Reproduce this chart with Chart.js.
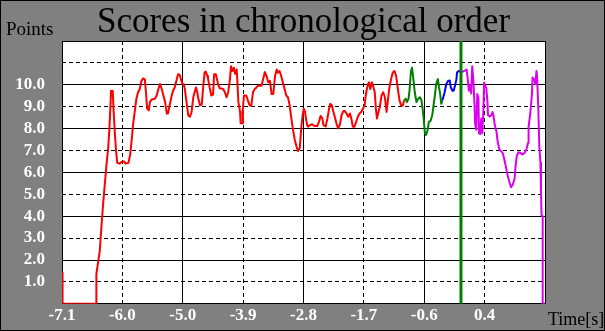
<!DOCTYPE html>
<html>
<head>
<meta charset="utf-8">
<script src="https://cdn.jsdelivr.net/npm/chart.js@4.4.0/dist/chart.umd.min.js"></script>
<style>
  html, body { margin: 0; padding: 0; background: #808080; }
  #wrap { width: 605px; height: 331px; }
</style>
</head>
<body>
<div id="wrap"><canvas id="scoreChart" width="605" height="331"></canvas></div>
<script>
// axis setup
const X_MIN = -7.1;
const X_STEP = 1.0714;
const xTickLabels = ['-7.1', '-6.0', '-5.0', '-3.9', '-2.8', '-1.7', '-0.6', '0.4', ''];
const yTickLabels = ['', '1.0', '2.0', '3.0', '4.0', '5.0', '6.0', '7.0', '8.0', '9.0', '10.0', '', ''];
const markerTime = -0.02;

// [time (s), points]
const redScores = [
    [-7.10, 1.43], [-7.09, 0], [-6.49, 0], [-6.49, 1.36], [-6.46, 1.88], [-6.43, 2.41], [-6.40, 3.53],
    [-6.37, 4.57], [-6.34, 5.47], [-6.31, 6.37], [-6.28, 7.12], [-6.26, 7.94], [-6.24, 9.06], [-6.23, 9.73],
    [-6.21, 9.50], [-6.20, 9.73], [-6.18, 8.61], [-6.16, 7.71], [-6.14, 6.97], [-6.12, 6.44], [-6.08, 6.40],
    [-6.04, 6.48], [-6.00, 6.50], [-5.97, 6.40], [-5.92, 6.44], [-5.89, 6.82], [-5.86, 7.57], [-5.84, 8.16],
    [-5.81, 8.76], [-5.78, 9.36], [-5.75, 9.66], [-5.72, 9.81], [-5.69, 10.18], [-5.66, 10.29], [-5.63, 10.25],
    [-5.61, 9.66], [-5.59, 8.91], [-5.56, 8.83], [-5.54, 9.21], [-5.51, 9.33], [-5.45, 9.36], [-5.42, 9.51],
    [-5.39, 9.81], [-5.36, 10.03], [-5.33, 9.81], [-5.30, 9.51], [-5.27, 9.21], [-5.24, 8.69], [-5.22, 8.69],
    [-5.19, 9.06], [-5.16, 9.43], [-5.13, 9.73], [-5.10, 9.88], [-5.07, 10.18], [-5.04, 10.48], [-5.01, 10.45],
    [-4.99, 10.26], [-4.96, 10.03], [-4.94, 10.03], [-4.92, 9.81], [-4.89, 9.21], [-4.86, 8.61], [-4.83, 8.54],
    [-4.80, 8.76], [-4.77, 9.43], [-4.74, 9.73], [-4.72, 9.88], [-4.70, 9.66], [-4.68, 9.36], [-4.65, 9.06],
    [-4.62, 9.10], [-4.60, 9.73], [-4.57, 10.56], [-4.55, 10.60], [-4.52, 10.40], [-4.51, 10.30], [-4.48, 9.88],
    [-4.45, 9.51], [-4.42, 9.55], [-4.40, 10.48], [-4.37, 10.48], [-4.35, 10.26], [-4.33, 10.03], [-4.30, 9.84],
    [-4.24, 9.81], [-4.21, 9.66], [-4.18, 9.43], [-4.15, 9.66], [-4.12, 10.26], [-4.10, 10.85], [-4.08, 10.63],
    [-4.05, 10.78], [-4.03, 10.50], [-4.00, 10.70], [-3.99, 10.26], [-3.97, 9.21], [-3.94, 8.76], [-3.93, 8.24],
    [-3.90, 8.24], [-3.89, 8.91], [-3.87, 9.51], [-3.83, 9.51], [-3.80, 9.28], [-3.77, 9.06], [-3.74, 9.06],
    [-3.71, 9.66], [-3.68, 9.81], [-3.65, 9.88], [-3.62, 9.96], [-3.56, 9.96], [-3.53, 10.26], [-3.50, 10.58],
    [-3.47, 10.40], [-3.44, 10.11], [-3.41, 10.18], [-3.38, 9.58], [-3.35, 9.58], [-3.32, 10.40], [-3.29, 10.70],
    [-3.27, 10.55], [-3.24, 10.63], [-3.21, 10.40], [-3.18, 10.11], [-3.15, 9.81], [-3.12, 9.51], [-3.09, 9.43],
    [-3.06, 9.06], [-3.03, 8.46], [-3.00, 7.94], [-2.97, 7.49], [-2.94, 7.19], [-2.91, 6.97], [-2.88, 7.12],
    [-2.85, 8.16], [-2.83, 8.61], [-2.81, 8.91], [-2.79, 8.80], [-2.77, 8.46], [-2.75, 8.16], [-2.73, 8.09],
    [-2.70, 8.16], [-2.66, 8.20], [-2.62, 8.12], [-2.57, 8.12], [-2.54, 8.31], [-2.51, 8.58], [-2.48, 8.46],
    [-2.46, 8.16], [-2.42, 8.10], [-2.39, 8.46], [-2.36, 8.91], [-2.34, 9.13], [-2.31, 9.06], [-2.29, 8.83],
    [-2.26, 8.54], [-2.23, 8.24], [-2.20, 8.01], [-2.17, 8.16], [-2.14, 8.61], [-2.11, 8.79], [-2.08, 8.80],
    [-2.05, 8.69], [-2.02, 8.54], [-1.99, 8.69], [-1.96, 8.39], [-1.94, 8.09], [-1.91, 8.09], [-1.88, 8.31],
    [-1.85, 8.54], [-1.82, 8.69], [-1.79, 8.76], [-1.76, 8.91], [-1.73, 9.06], [-1.71, 9.51], [-1.69, 9.81],
    [-1.67, 10.03], [-1.65, 10.11], [-1.63, 9.81], [-1.60, 10.11], [-1.58, 9.96], [-1.55, 9.66], [-1.53, 8.91],
    [-1.51, 8.46], [-1.49, 8.70], [-1.46, 8.99], [-1.43, 9.51], [-1.40, 9.66], [-1.37, 9.43], [-1.34, 8.76],
    [-1.32, 9.21], [-1.29, 9.88], [-1.26, 10.26], [-1.23, 10.56], [-1.20, 10.63], [-1.17, 10.40], [-1.14, 9.81],
    [-1.11, 9.28], [-1.08, 9.06], [-1.05, 9.06], [-1.03, 9.28]
];

const greenScores = [
    [-1.03, 9.28], [-1.00, 9.36], [-0.98, 9.21], [-0.95, 9.36], [-0.93, 9.81], [-0.91, 10.56], [-0.89, 10.78],
    [-0.87, 10.40], [-0.84, 9.66], [-0.81, 9.21], [-0.78, 9.36], [-0.75, 9.43], [-0.72, 9.28], [-0.70, 8.91],
    [-0.68, 8.39], [-0.66, 7.79], [-0.64, 7.71], [-0.61, 7.95], [-0.59, 8.31], [-0.56, 8.35], [-0.53, 8.61],
    [-0.51, 8.99], [-0.48, 9.58], [-0.46, 10.03], [-0.43, 10.26], [-0.41, 9.88], [-0.39, 9.60], [-0.37, 9.13],
    [-0.35, 9.28]
];

const blueScores = [
    [-0.35, 9.28], [-0.31, 9.66], [-0.28, 10.03], [-0.25, 10.18], [-0.22, 10.20], [-0.20, 9.88], [-0.17, 9.73],
    [-0.15, 9.73], [-0.12, 10.03], [-0.10, 10.26], [-0.09, 10.56], [-0.06, 10.63], [-0.03, 10.60]
];

const magentaScores = [
    [-0.03, 10.60], [-0.01, 10.56], [0.01, 10.60], [0.06, 10.66], [0.08, 10.70], [0.10, 10.26], [0.12, 9.73],
    [0.15, 10.00], [0.16, 9.60], [0.18, 10.85], [0.20, 10.20], [0.22, 9.13], [0.23, 8.24], [0.25, 7.95],
    [0.27, 9.58], [0.29, 9.40], [0.30, 7.79], [0.32, 7.75], [0.34, 8.46], [0.36, 7.79], [0.38, 8.99],
    [0.39, 10.11], [0.41, 9.96], [0.43, 9.85], [0.45, 9.21], [0.46, 8.61], [0.49, 8.55], [0.52, 8.61],
    [0.54, 8.76], [0.56, 8.55], [0.58, 8.16], [0.61, 7.87], [0.63, 7.42], [0.66, 7.04], [0.69, 6.98],
    [0.72, 6.89], [0.75, 6.59], [0.78, 6.22], [0.81, 5.85], [0.84, 5.55], [0.87, 5.32], [0.90, 5.45],
    [0.93, 5.70], [0.95, 6.30], [0.97, 6.74], [1.00, 6.92], [1.03, 6.89], [1.07, 6.82], [1.11, 6.89],
    [1.14, 7.04], [1.17, 7.34], [1.18, 8.09], [1.21, 8.69], [1.24, 9.58], [1.25, 10.33], [1.28, 10.25],
    [1.30, 10.03], [1.32, 10.63], [1.33, 10.40], [1.35, 9.13], [1.37, 7.19], [1.39, 6.44], [1.40, 5.10],
    [1.41, 4.05], [1.43, 4.00], [1.43, 0], [1.47, 0]
];

const SERIF = "'Liberation Serif', 'DejaVu Serif', serif";

function toPoints(series) {
    return series.map(p => ({ x: p[0], y: p[1] }));
}

function scoreLine(series, color) {
    return {
        data: toPoints(series),
        borderColor: color,
        borderWidth: 2,
        borderJoinStyle: 'round',
        pointRadius: 0,
        fill: false,
        tension: 0
    };
}

// put ticks exactly on the grid columns
function setXTicks(scale) {
    scale.ticks = xTickLabels.map((_, i) => ({ value: X_MIN + i * X_STEP }));
}

// even grid lines solid, odd ones dashed (second axis)
const solidEven = ctx => (ctx.index % 2 === 0 ? '#000000' : 'rgba(0,0,0,0)');
const dashedOdd = ctx => (ctx.index % 2 === 1 ? '#000000' : 'rgba(0,0,0,0)');

// gray panel, white plot area, title and axis names
const panel = {
    id: 'panel',
    beforeDraw(chart) {
        const { ctx, chartArea: a, width, height } = chart;
        ctx.save();
        ctx.fillStyle = '#808080';
        ctx.fillRect(0, 0, width, height);
        ctx.fillStyle = '#ffffff';
        ctx.fillRect(a.left, a.top, a.right - a.left, a.bottom - a.top);
        ctx.strokeStyle = '#000000';
        ctx.lineWidth = 1;
        ctx.strokeRect(0.5, 0.5, width - 1, height - 1);
        ctx.restore();
    },
    afterDraw(chart) {
        const { ctx, width } = chart;
        ctx.save();
        ctx.fillStyle = '#000000';
        ctx.textBaseline = 'alphabetic';
        ctx.textAlign = 'center';
        ctx.font = '35px ' + SERIF;
        ctx.fillText('Scores in chronological order', width / 2 + 1, 32);
        ctx.textAlign = 'left';
        ctx.font = '19px ' + SERIF;
        ctx.fillText('Points', 6, 35);
        ctx.font = '18px ' + SERIF;
        ctx.fillText('Time[s]', 548, 325);
        ctx.restore();
    }
};

const xMax = X_MIN + (xTickLabels.length - 1) * X_STEP;
const tickFont = { family: SERIF, size: 17, weight: 'bold' };

new Chart(document.getElementById('scoreChart').getContext('2d'), {
    type: 'line',
    data: {
        datasets: [
            {
                data: [{ x: markerTime, y: 0 }, { x: markerTime, y: 12 }],
                borderColor: '#008000',
                borderWidth: 3,
                pointRadius: 0,
                fill: false
            },
            scoreLine(redScores, '#ff0000'),
            scoreLine(greenScores, '#008000'),
            scoreLine(blueScores, '#0000ff'),
            scoreLine(magentaScores, '#dd00f0')
        ]
    },
    options: {
        responsive: false,
        animation: false,
        layout: { padding: { top: 41, right: 60, bottom: 0, left: 0 } },
        plugins: {
            legend: { display: false },
            tooltip: { enabled: false },
            title: { display: false }
        },
        scales: {
            x: {
                type: 'linear',
                position: 'bottom',
                min: X_MIN,
                max: xMax,
                afterBuildTicks: setXTicks,
                afterFit: s => { s.height = 22; },
                grid: { color: solidEven, lineWidth: 1, drawTicks: false },
                border: { display: false },
                ticks: {
                    autoSkip: false,
                    maxRotation: 0,
                    color: '#ffffff',
                    font: tickFont,
                    padding: 2,
                    callback: (v, i) => xTickLabels[i]
                }
            },
            x2: {
                type: 'linear',
                position: 'bottom',
                min: X_MIN,
                max: xMax,
                afterBuildTicks: setXTicks,
                afterFit: s => { s.height = 0; },
                grid: { color: dashedOdd, lineWidth: 1, drawTicks: false },
                border: { display: false, dash: [4, 3] },
                ticks: { display: false }
            },
            y: {
                type: 'linear',
                position: 'left',
                min: 0,
                max: 12,
                afterFit: s => { s.width = 62; },
                grid: { color: solidEven, lineWidth: 1, drawTicks: false },
                border: { display: false },
                ticks: {
                    stepSize: 1,
                    autoSkip: false,
                    color: '#ffffff',
                    font: tickFont,
                    padding: 17,
                    callback: v => yTickLabels[v] || ''
                }
            },
            y2: {
                type: 'linear',
                position: 'left',
                min: 0,
                max: 12,
                afterFit: s => { s.width = 0; },
                grid: { color: dashedOdd, lineWidth: 1, drawTicks: false },
                border: { display: false, dash: [4, 3] },
                ticks: { display: false, stepSize: 1, autoSkip: false }
            }
        }
    },
    plugins: [panel]
});
</script>
</body>
</html>
